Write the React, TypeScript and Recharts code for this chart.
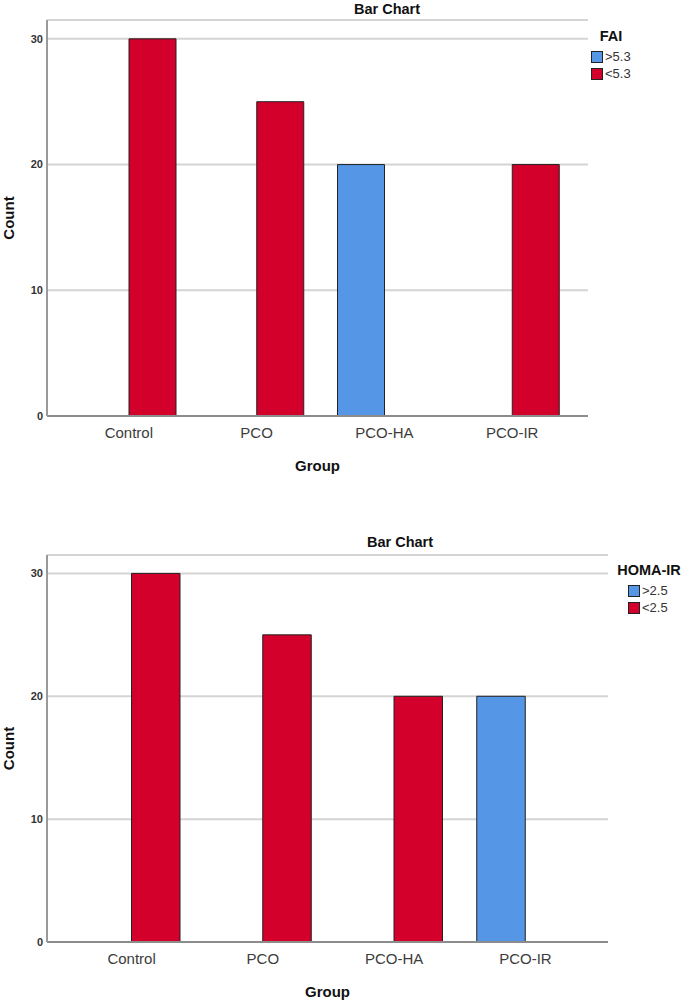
import React from 'react'
import { BarChart, Bar, XAxis, YAxis, CartesianGrid, Legend } from 'recharts'

const groups = ['Control', 'PCO', 'PCO-HA', 'PCO-IR']
const countTicks = [0, 10, 20, 30]

// FAI chart
const faiAbove = [0, 0, 20, 0]
const faiBelow = [30, 25, 0, 20]

// HOMA-IR chart
const homaAbove = [0, 0, 0, 20]
const homaBelow = [30, 25, 20, 0]

const BLUE = '#5596e6'
const RED = '#d3002b'
const FONT = '"Liberation Sans", Arial, sans-serif'

const buildRows = (above: number[], below: number[]) =>
  groups.map((group, i) => ({ group, above: above[i], below: below[i] }))

interface PanelProps {
  top: number
  legendTitle: string
  aboveName: string
  belowName: string
  above: number[]
  below: number[]
  marginTop: number
  marginRight: number
  axisHeight: number
  padLeft: number
  padRight: number
  barSize: number
  legendCenter: number
  legendRowsLeft: number
  legendTop: number
}

const CountLabel = (props: any) => {
  const vb = props.viewBox || {}
  const cy = vb.y + vb.height / 2
  const x = 14
  return (
    <text
      x={x}
      y={cy}
      transform={`rotate(-90 ${x} ${cy})`}
      textAnchor='middle'
      fontFamily={FONT}
      fontWeight={700}
      fontSize={15}
      fill='#111'
    >
      Count
    </text>
  )
}

const GroupLabel = (props: any) => {
  const vb = props.viewBox || {}
  return (
    <text
      x={vb.x + vb.width / 2}
      y={vb.y + 49}
      textAnchor='middle'
      dominantBaseline='central'
      fontFamily={FONT}
      fontWeight={700}
      fontSize={15}
      fill='#111'
    >
      Group
    </text>
  )
}

const renderLegend =
  (title: string, order: string[], center: number, rowsLeft: number) =>
  (props: any) => {
    const payload = [...(props.payload || [])].sort(
      (a: any, b: any) => order.indexOf(a.value) - order.indexOf(b.value)
    )
    return (
      <div style={{ position: 'relative', height: 60, fontFamily: FONT, color: '#333' }}>
        <div
          style={{
            position: 'absolute',
            left: center - 60,
            top: 0,
            width: 120,
            textAlign: 'center',
            fontWeight: 700,
            fontSize: 14.5,
            lineHeight: '18px',
            color: '#111',
          }}
        >
          {title}
        </div>
        <div style={{ position: 'absolute', left: rowsLeft, top: 22 }}>
          {payload.map((entry: any) => (
            <div
              key={entry.value}
              style={{ display: 'flex', alignItems: 'center', height: 16.5 }}
            >
              <span
                style={{
                  display: 'inline-block',
                  width: 10,
                  height: 10,
                  background: entry.color,
                  border: '1px solid #222',
                  marginRight: 2,
                }}
              />
              <span style={{ fontSize: 13, lineHeight: '16px' }}>{entry.value}</span>
            </div>
          ))}
        </div>
      </div>
    )
  }

const Panel: React.FC<PanelProps> = (p) => {
  const data = buildRows(p.above, p.below)
  return (
    <div style={{ position: 'absolute', left: 0, top: p.top }}>
      <BarChart
        width={685}
        height={480}
        data={data}
        barGap={0}
        margin={{ top: p.marginTop, right: p.marginRight, bottom: 0, left: 0 }}
      >
        <CartesianGrid vertical={false} stroke='#d4d4d4' strokeWidth={2} />
        <XAxis
          dataKey='group'
          height={p.axisHeight}
          padding={{ left: p.padLeft, right: p.padRight }}
          axisLine={{ stroke: '#8c8c8c', strokeWidth: 2 }}
          tickLine={false}
          tickSize={0}
          tickMargin={11}
          tick={{ fontSize: 15, fill: '#3c3c3c', fontFamily: FONT }}
          label={{ content: GroupLabel }}
        />
        <YAxis
          width={47}
          domain={[0, 31.5]}
          ticks={countTicks}
          axisLine={{ stroke: '#9a9a9a', strokeWidth: 2 }}
          tickLine={false}
          tickSize={0}
          tickMargin={4}
          tick={{ fontSize: 11, fill: '#333', fontFamily: FONT, fontWeight: 600 }}
          label={{ content: CountLabel }}
        />
        <Legend
          layout='vertical'
          align='center'
          verticalAlign='middle'
          wrapperStyle={{
            left: 0,
            top: p.legendTop,
            width: 685,
            height: 60,
          }}
          content={renderLegend(
            p.legendTitle,
            [p.aboveName, p.belowName],
            p.legendCenter,
            p.legendRowsLeft
          )}
        />
        <Bar
          dataKey='above'
          name={p.aboveName}
          fill={BLUE}
          stroke='#222'
          strokeWidth={1}
          barSize={p.barSize}
          isAnimationActive={false}
        />
        <Bar
          dataKey='below'
          name={p.belowName}
          fill={RED}
          stroke='#222'
          strokeWidth={1}
          barSize={p.barSize}
          isAnimationActive={false}
        />
      </BarChart>
    </div>
  )
}

const Title: React.FC<{ cx: number; cy: number }> = ({ cx, cy }) => (
  <div
    style={{
      position: 'absolute',
      left: cx - 100,
      top: cy - 9,
      width: 200,
      lineHeight: '18px',
      textAlign: 'center',
      fontFamily: FONT,
      fontWeight: 700,
      fontSize: 14.5,
      color: '#111',
    }}
  >
    Bar Chart
  </div>
)

export default function App() {
  return (
    <div
      style={{
        position: 'absolute',
        left: 0,
        top: 0,
        width: 685,
        height: 1000,
        overflow: 'hidden',
        background: '#fff',
      }}
    >
      <Panel
        top={0}
        legendTitle='FAI'
        aboveName='>5.3'
        belowName='<5.3'
        above={faiAbove}
        below={faiBelow}
        marginTop={20}
        marginRight={97}
        axisHeight={64}
        padLeft={18}
        padRight={12}
        barSize={47}
        legendCenter={611}
        legendRowsLeft={591}
        legendTop={27}
      />
      <Panel
        top={520}
        legendTitle='HOMA-IR'
        aboveName='>2.5'
        belowName='<2.5'
        above={homaAbove}
        below={homaBelow}
        marginTop={35}
        marginRight={77}
        axisHeight={58}
        padLeft={19}
        padRight={17}
        barSize={48.5}
        legendCenter={649}
        legendRowsLeft={628}
        legendTop={41}
      />
      <Title cx={387} cy={9} />
      <Title cx={400} cy={542} />
    </div>
  )
}
